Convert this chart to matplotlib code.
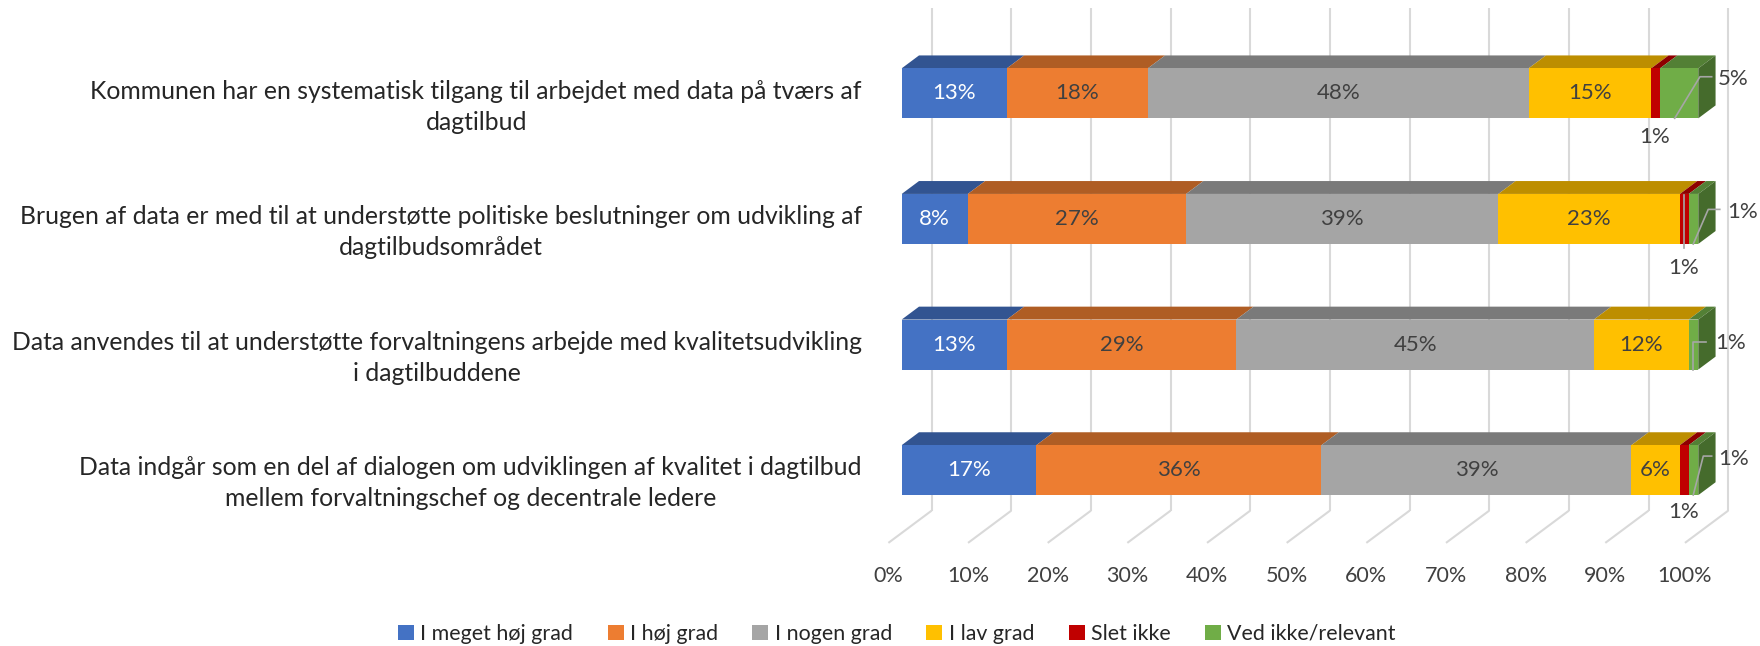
import numpy as np
import matplotlib
matplotlib.use("Agg")
import matplotlib.pyplot as plt
from matplotlib.patches import Polygon

plt.rcParams['font.family'] = ['Lato', 'DejaVu Sans']

# ---- data (percent of answers) ----
questions = [
    "Kommunen har en systematisk tilgang til arbejdet med data på tværs af\ndagtilbud",
    "Brugen af data er med til at understøtte politiske beslutninger om udvikling af\ndagtilbudsområdet",
    "Data anvendes til at understøtte forvaltningens arbejde med kvalitetsudvikling\ni dagtilbuddene",
    "Data indgår som en del af dialogen om udviklingen af kvalitet i dagtilbud\nmellem forvaltningschef og decentrale ledere",
]
answers = ["I meget høj grad", "I høj grad", "I nogen grad", "I lav grad", "Slet ikke", "Ved ikke/relevant"]
meget_hoj = [13.2, 8.3, 13.2, 16.9]
hoj = [17.7, 27.4, 28.8, 35.8]
nogen = [47.8, 39.2, 44.9, 38.9]
lav = [15.4, 22.8, 11.9, 6.1]
slet_ikke = [1.1, 1.1, 0.0, 1.1]
ved_ikke = [4.8, 1.2, 1.2, 1.2]
series = [meget_hoj, hoj, nogen, lav, slet_ikke, ved_ikke]
xticks = [0, 10, 20, 30, 40, 50, 60, 70, 80, 90, 100]

colors = ["#4472C4", "#ED7D31", "#A5A5A5", "#FFC000", "#C00000", "#70AD47"]
label_colors = ["white", "#404040", "#404040", "#404040", "#404040", "#404040"]

# oblique "3D" projection: one depth unit = DX percent right, DY categories up
DX, DY = 2.172, 0.1027
WALL, FLOOR = 1.734, -0.77
H = 0.398


def shade(c, f):
    rgb = np.array(matplotlib.colors.to_rgb(c)) * f
    return tuple(rgb)


fig = plt.figure(figsize=(17.6, 6.46), dpi=100)
ax = fig.add_axes([0, 0, 1, 1])
ax.set_xlim(-113.2, 107.75)
ax.set_ylim(4.40, -0.743)
ax.axis("off")

# back wall gridlines + floor lines
grid_kw = dict(color="#D9D9D9", lw=1.5, zorder=1, solid_capstyle="butt")
for t in xticks:
    xb = t + WALL * DX
    ax.plot([xb, xb], [-0.5 - WALL * DY, 3.5 - WALL * DY], **grid_kw)
    ax.plot([xb, t + FLOOR * DX], [3.5 - WALL * DY, 3.5 - FLOOR * DY], **grid_kw)
    ax.text(t + FLOOR * DX, 3.839, f"{t}%", ha="center", va="center",
            fontsize=15.5, color="#404040")

ypos = np.arange(len(questions))
vals = np.array(series)
lefts = np.vstack([np.zeros(len(questions)), np.cumsum(vals, axis=0)[:-1]])

handles = []
for k, (v, c) in enumerate(zip(vals, colors)):
    bars = ax.barh(ypos, v, left=lefts[k], height=H, color=c, zorder=3, label=answers[k])
    handles.append(bars)
    for i in range(len(questions)):
        if v[i] <= 0:
            continue
        x0, x1 = lefts[k][i], lefts[k][i] + v[i]
        yt = ypos[i] - H / 2
        top = Polygon([(x0, yt), (x1, yt), (x1 + DX, yt - DY), (x0 + DX, yt - DY)],
                      closed=True, fc=shade(c, 0.74), ec="none", zorder=2.9)
        ax.add_patch(top)
        if k < 4:
            ax.text((x0 + x1) / 2, ypos[i], f"{v[i]:.0f}%", ha="center", va="center",
                    fontsize=16, color=label_colors[k], zorder=5)

# right side face at the end of every bar
for i in range(len(questions)):
    xe = vals[:, i].sum()
    last = max(k for k in range(len(colors)) if vals[k][i] > 0)
    yt, yb = ypos[i] - H / 2, ypos[i] + H / 2
    side = Polygon([(xe, yt), (xe, yb), (xe + DX, yb - DY), (xe + DX, yt - DY)],
                   closed=True, fc=shade(colors[last], 0.62), ec="none", zorder=2.9)
    ax.add_patch(side)

# labels of the thin segments, placed outside with leader lines
outside = [
    # (series, question, label x, label y, leader path)
    (4, 0, 94.57, 0.346, None),
    (5, 0, 104.36, -0.114, [(97.04, 0.199), (100.21, -0.132), (101.68, -0.132)]),
    (4, 1, 98.2, 1.393, [(98.2, 0.81), (98.2, 1.234)]),
    (5, 1, 105.6, 0.943, [(99.37, 1.2), (101.25, 0.924), (102.7, 0.924)]),
    (5, 2, 104.0, 1.99, [(99.37, 2.199), (99.37, 1.98), (100.97, 1.98)]),
    (4, 3, 98.12, 3.331, None),
    (5, 3, 104.48, 2.914, [(99.37, 3.198), (100.63, 2.888), (101.68, 2.888)]),
]
for k, i, lx, ly, path in outside:
    ax.text(lx, ly, f"{vals[k][i]:.0f}%", ha="center", va="center",
            fontsize=16, color="#404040", zorder=6)
    if path:
        px, py = zip(*path)
        ax.plot(px, py, color="#A6A6A6", lw=1.2, zorder=6)

# category labels
for i, q in enumerate(questions):
    ax.text(-5.0, ypos[i] + 0.105, q, ha="right", va="center", multialignment="center",
            fontsize=17.8, color="#262626", linespacing=1.42)

fig.legend(handles=handles, labels=answers, loc="center", bbox_to_anchor=(897 / 1760, 12 / 646),
           ncol=6, frameon=False, fontsize=15.4, handlelength=0.75, handleheight=0.75,
           handletextpad=0.3, columnspacing=1.6, labelcolor="#262626")

fig.savefig("out.png", dpi=100)
